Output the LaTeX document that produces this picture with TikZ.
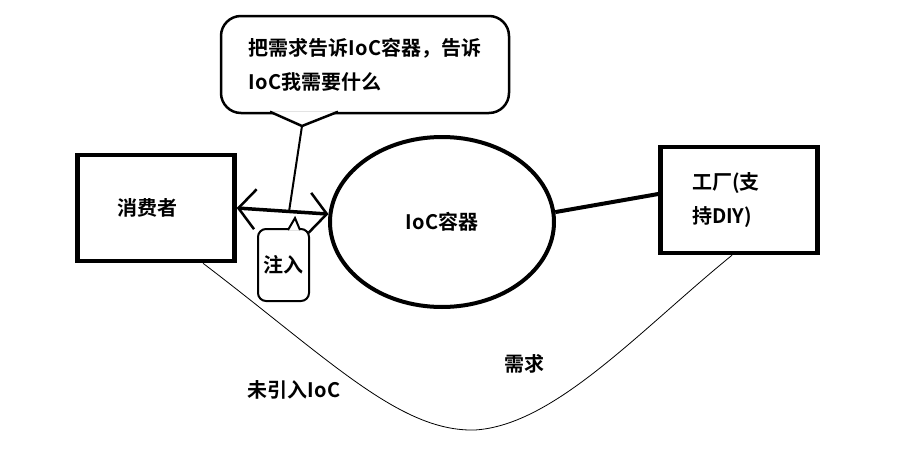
\documentclass[tikz,border=0pt]{standalone}
\usepackage{fontspec}
\setmainfont{Noto Sans CJK SC Bold}
\usetikzlibrary{shapes.geometric,arrows.meta}

\begin{document}
\begin{tikzpicture}[x=1pt,y=-1pt,
    every node/.style={font=\fontsize{20}{34}\selectfont},
    box/.style={draw,line width=4.5pt,minimum width=157pt,minimum height=106pt,inner sep=0pt},
    bubble/.style={draw,fill=white,line width=2.5pt,inner sep=0pt}]
\useasboundingbox (0,0) rectangle (905,463);
    \node[box,text width=78pt,align=left] (consumer) at (156,208) {消费者};
    \node[box,text width=94pt,align=left] (factory) at (739,200) {工厂(支\\持DIY)};
    \node[ellipse,draw,line width=4pt,minimum width=224pt,minimum height=170pt,inner sep=0pt] (ioc) at (442,222) {IoC容器};
    \node[bubble,rounded corners=20pt,minimum width=288pt,minimum height=97pt,align=left] (ask) at (365,64.5) {把需求告诉IoC容器，告诉\\IoC我需要什么};
    \node[bubble,line width=2pt,rounded corners=8pt,minimum width=51pt,minimum height=72pt] (inject) at (283.5,265) {注入};
    \coordinate (asktip) at (302,126);
    \coordinate (injecttip) at (295,218);
    % speech tails
    \draw[line width=2.5pt,fill=white] ([xshift=-95pt,yshift=2.5pt]ask.south) -- (asktip) -- ([xshift=-27pt,yshift=2.5pt]ask.south);
    \draw[line width=2pt,fill=white] ([xshift=4.5pt,yshift=-2pt]inject.north) -- (injecttip) -- ([xshift=16.5pt,yshift=-2pt]inject.north);
    % connectors
    \draw[line width=3.5pt,{Straight Barb[length=17pt,width=40pt,line width=2.5pt]}-{Straight Barb[length=17pt,width=40pt,line width=2.5pt]}]
        (consumer.east) -- coordinate[pos=0.57] (hit) (ioc.176);
    \draw[line width=2pt] (asktip) -- (hit);
    \draw[line width=4pt] (ioc.5) -- ([yshift=6pt]factory.west);
    \draw[line width=0.8pt] ([xshift=47pt]consumer.south) .. controls (330,360) and (400,432) .. (475,430)
        .. controls (555,425) and (640,330) .. ([xshift=-7pt]factory.south);
    \node (need) at (524,364) {需求};
    \node (noioc) at (294,390) {未引入IoC};
\end{tikzpicture}
\end{document}
